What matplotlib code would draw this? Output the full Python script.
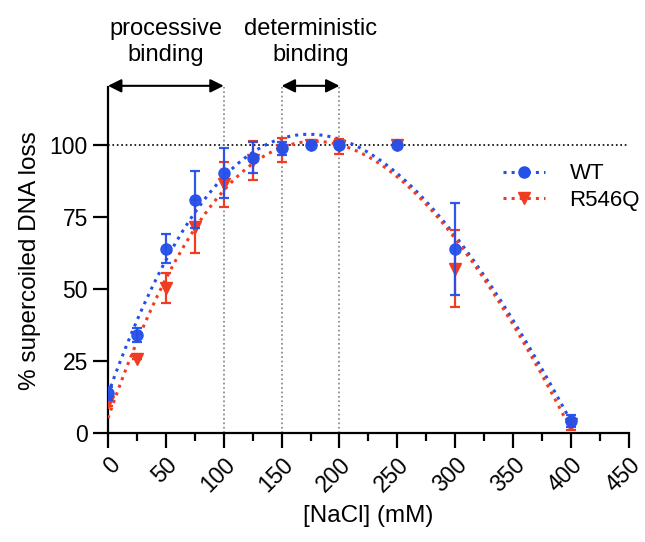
import numpy as np
import matplotlib
matplotlib.use("Agg")
import matplotlib.pyplot as plt

plt.rcParams['font.family'] = ['Liberation Sans', 'DejaVu Sans']

# NaCl concentrations (mM)
nacl = [0, 25, 50, 75, 100, 125, 150, 175, 200, 250, 300, 400]

# % supercoiled DNA loss, mean and error
wt_mean = [13.8, 34.0, 64.0, 81.0, 90.2, 95.6, 98.8, 100.0, 100.0, 100.0, 64.0, 4.2]
wt_err = [2.2, 2.5, 5.0, 9.8, 8.7, 5.4, 2.3, 0.0, 1.0, 0.0, 16.0, 2.0]
mut_mean = [10.9, 25.6, 50.2, 71.6, 86.3, 94.6, 98.1, 100.0, 99.5, 100.0, 57.0, 3.0]
mut_err = [1.5, 0.0, 5.2, 9.2, 7.7, 6.8, 4.2, 0.0, 2.5, 0.0, 13.4, 2.0]

blue = '#2450ea'
red = '#f23c22'

fig = plt.figure(figsize=(6.45, 5.42), dpi=100)
ax = fig.add_axes([0.1674, 0.201, 0.8076, 0.638])

# polynomial fits through the means
xs = np.linspace(0, 400, 300)
for mean, color in [(wt_mean, blue), (mut_mean, red)]:
    coef = np.polyfit(nacl, mean, 3)
    ax.plot(xs, np.polyval(coef, xs), ls=':', lw=2.2, color=color, zorder=3)

ax.errorbar(nacl, mut_mean, yerr=mut_err, fmt='v', color=red, ms=8, capsize=3.5,
            elinewidth=1.6, capthick=1.6, zorder=4)
ax.errorbar(nacl, wt_mean, yerr=wt_err, fmt='o', color=blue, ms=8, capsize=3.5,
            elinewidth=1.6, capthick=1.6, zorder=5, alpha=0.95)

# legend handles
ax.plot([], [], ls=':', lw=2.2, marker='o', ms=8, color=blue, label='WT')
ax.plot([], [], ls=':', lw=2.2, marker='v', ms=8, color=red, label='R546Q')
ax.legend(loc='center left', bbox_to_anchor=(0.758, 0.711), frameon=False, fontsize=16,
          handlelength=1.9, handletextpad=1.1, labelspacing=0.25,
          borderpad=0, borderaxespad=0)

# reference lines
ax.axhline(100, color='black', ls=':', lw=1.2, zorder=1)
for xv in [100, 150, 200]:
    ax.plot([xv, xv], [0, 120], color='gray', ls=':', lw=1.2, zorder=1)

# region arrows and labels
for x0, x1 in [(0, 100), (150, 200)]:
    ax.annotate('', xy=(x0, 120.5), xytext=(x1, 120.5),
                arrowprops=dict(arrowstyle='<|-|>', color='black', lw=1.5,
                                mutation_scale=20, shrinkA=0, shrinkB=0),
                annotation_clip=False)
ax.text(50, 127.5, 'processive\nbinding', ha='center', va='bottom', fontsize=17,
        linespacing=1.2)
ax.text(175, 127.5, 'deterministic\nbinding', ha='center', va='bottom', fontsize=17,
        linespacing=1.2)

ax.set_xlim(0, 450)
ax.set_ylim(0, 120)
ax.spines['top'].set_visible(False)
ax.spines['right'].set_visible(False)
ax.spines['left'].set_linewidth(1.6)
ax.spines['bottom'].set_linewidth(1.6)
ax.spines['left'].set_bounds(0, 120)

ax.set_xticks(np.arange(0, 451, 50))
ax.set_xticks(np.arange(0, 451, 25), minor=True)
ax.set_yticks([0, 25, 50, 75, 100])
ax.tick_params(axis='both', which='major', length=10.5, width=1.6, labelsize=16.5, pad=4)
ax.tick_params(axis='x', which='minor', length=6, width=1.6)
plt.setp(ax.get_xticklabels(), rotation=45, ha='right', va='top', rotation_mode='anchor')

ax.set_xlabel('[NaCl] (mM)', fontsize=17.5, labelpad=6)
ax.set_ylabel('% supercoiled DNA loss', fontsize=17.5, labelpad=6)

fig.savefig('out.png', dpi=100)
